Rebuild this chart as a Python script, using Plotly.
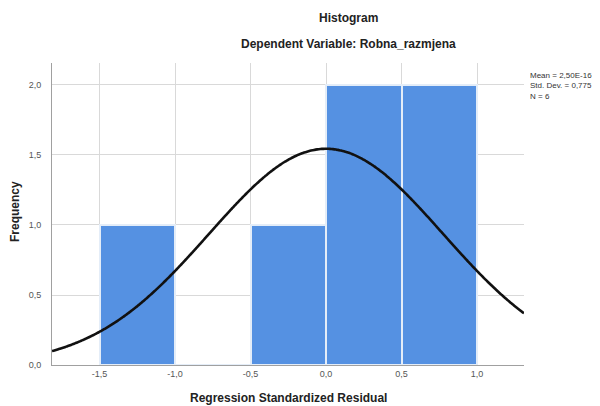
import numpy as np
import plotly.graph_objects as go

# Data
bin_left = [-1.5, -1.0, -0.5, 0.0, 0.5]
bin_width = 0.5
counts = [1, 0, 1, 2, 2]
mean_val = 2.50e-16
std_dev = 0.775
n_obs = 6
x_ticks = [-1.5, -1.0, -0.5, 0.0, 0.5, 1.0]
x_tick_labels = ["-1,5", "-1,0", "-0,5", "0,0", "0,5", "1,0"]
y_ticks = [0.0, 0.5, 1.0, 1.5, 2.0]
y_tick_labels = ["0,0", "0,5", "1,0", "1,5", "2,0"]
x_range = [-1.815, 1.311]
y_range = [0, 2.157]

# page has an 8px body margin; work in screen pixels and offset
OFF = 8
W, H = 600 - OFF, 406 - OFF
L, R, T, B = 52 - OFF, 600 - 524, 63 - OFF, 406 - 365
pw, ph = W - L - R, H - T - B

def px(x):
    return (x - OFF - L) / pw

def py(y):
    return (H - B - (y - OFF)) / ph

centers = [b + bin_width / 2 for b in bin_left]

xc = np.linspace(x_range[0], x_range[1], 300)
yc = n_obs * bin_width / (std_dev * np.sqrt(2 * np.pi)) * np.exp(-0.5 * ((xc - mean_val) / std_dev) ** 2)

fig = go.Figure()
fig.add_trace(go.Bar(
    x=centers, y=counts, width=bin_width,
    marker=dict(color="#5591e2", line=dict(color="#e4edf8", width=2)),
    showlegend=False, hoverinfo="skip",
))
fig.add_trace(go.Scatter(
    x=xc, y=yc, mode="lines",
    line=dict(color="#111111", width=2.6, shape="spline"),
    showlegend=False, hoverinfo="skip",
))

axis_font = dict(family="Liberation Sans, Arial", size=9, color="#555555")
fig.update_layout(
    width=W, height=H,
    margin=dict(l=L, r=R, t=T, b=B, pad=0),
    paper_bgcolor="white", plot_bgcolor="white",
    bargap=0,
    xaxis=dict(
        range=x_range, tickvals=x_ticks, ticktext=x_tick_labels,
        showgrid=True, gridcolor="#d9d9d9", gridwidth=1,
        showline=True, linecolor="#a0a0a0", linewidth=1,
        zeroline=False, ticks="", tickfont=axis_font,
    ),
    yaxis=dict(
        range=y_range, tickvals=y_ticks, ticktext=y_tick_labels,
        showgrid=True, gridcolor="#d9d9d9", gridwidth=1,
        showline=True, linecolor="#a0a0a0", linewidth=1,
        zeroline=False, ticks="", ticklabelstandoff=8, tickfont=axis_font,
    ),
    font=dict(family="Liberation Sans, Arial", color="#222222"),
)

annots = [
    dict(text="<b>Histogram</b>", x=px(348), y=py(18), size=12),
    dict(text="<b>Dependent Variable: Robna_razmjena</b>", x=px(348), y=py(44), size=12),
    dict(text="<b>Regression Standardized Residual</b>", x=px(288), y=py(398), size=12),
]
for a in annots:
    fig.add_annotation(text=a["text"], x=a["x"], y=a["y"], xref="paper", yref="paper",
                       showarrow=False, xanchor="center", yanchor="middle",
                       font=dict(size=a["size"], color="#222222", family="Liberation Sans, Arial"))
fig.add_annotation(text="<b>Frequency</b>", x=px(15), y=py(212), xref="paper", yref="paper",
                   showarrow=False, textangle=-90, xanchor="center", yanchor="middle",
                   font=dict(size=12, color="#222222", family="Liberation Sans, Arial"))
stats_text = "Mean = 2,50E-16<br>Std. Dev. = 0,775<br>N = 6"
fig.add_annotation(text=stats_text, x=px(528), y=py(69), xref="paper", yref="paper",
                   showarrow=False, xanchor="left", yanchor="top", align="left",
                   font=dict(size=8, color="#333333", family="Liberation Sans, Arial"))

fig.write_html("out.html")
